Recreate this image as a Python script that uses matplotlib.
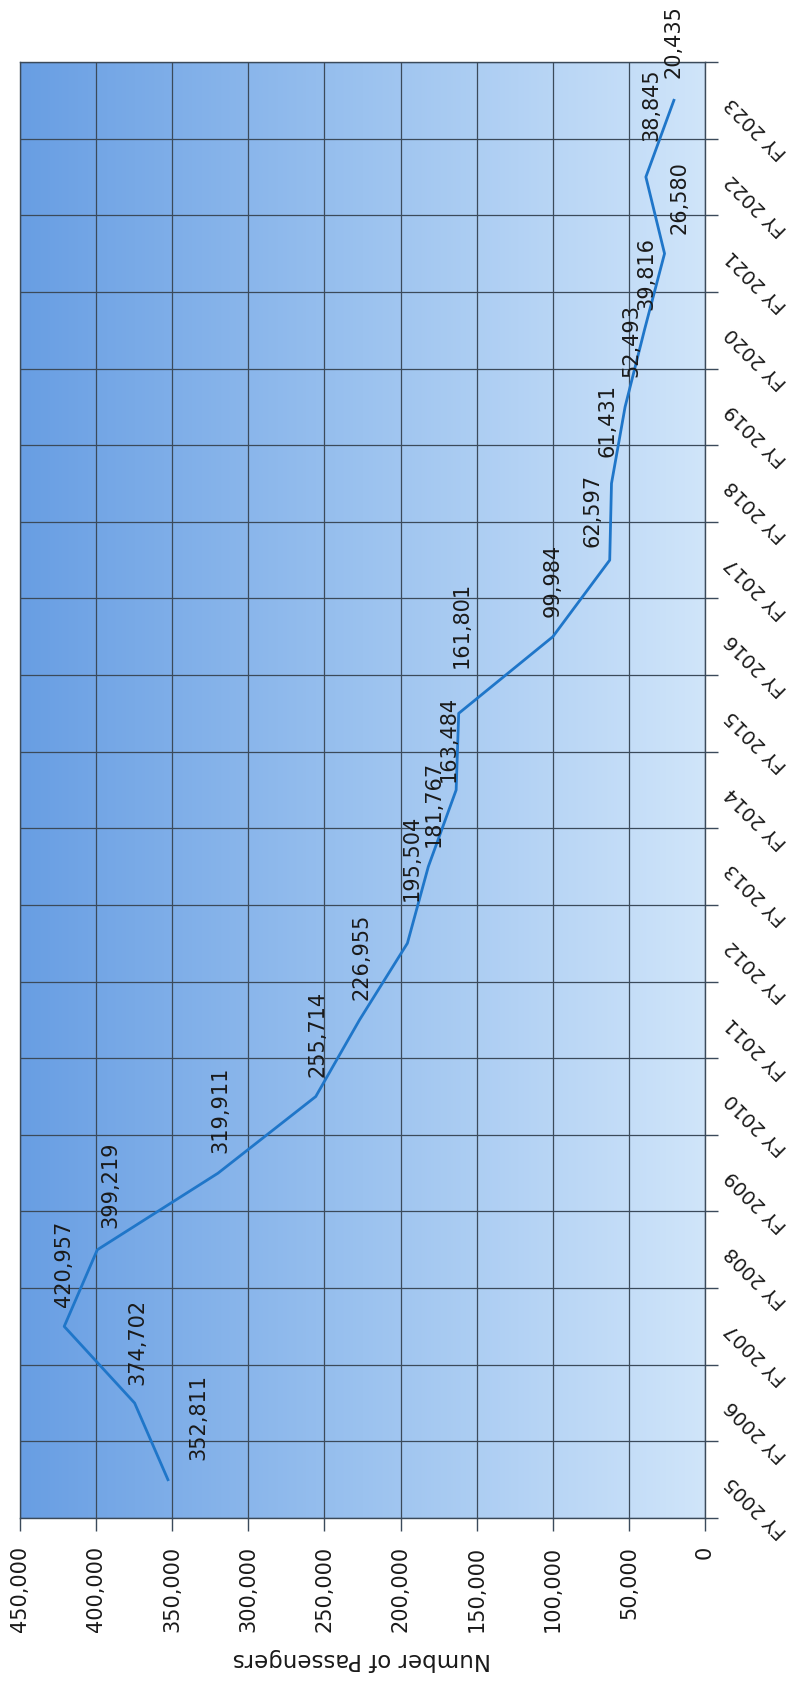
import numpy as np
import matplotlib
matplotlib.use('Agg')
import matplotlib.pyplot as plt
from matplotlib.colors import LinearSegmentedColormap
from matplotlib.ticker import FuncFormatter

plt.rcParams['font.family'] = ['DejaVu Sans']

# 数据
years = ['FY 2005', 'FY 2006', 'FY 2007', 'FY 2008', 'FY 2009', 'FY 2010', 'FY 2011',
         'FY 2012', 'FY 2013', 'FY 2014', 'FY 2015', 'FY 2016', 'FY 2017', 'FY 2018',
         'FY 2019', 'FY 2020', 'FY 2021', 'FY 2022', 'FY 2023']
passengers = [352811, 374702, 420957, 399219, 319911, 255714, 226955, 195504, 181767,
              163484, 161801, 99984, 62597, 61431, 52493, 39816, 26580, 38845, 20435]
value_ticks = [0, 50000, 100000, 150000, 200000, 250000, 300000, 350000, 400000, 450000]

# 标签微调（像素：横向, 与点的间距）
label_nudge = [(30, 20), (3, 18), (0, 19), (13, 22), (2, 20), (2, 20), (2, 20),
               (4, 42), (5, 20), (-7, 8), (3, 45), (0, 20), (-17, 13), (-4, 26),
               (6, 30), (2, 20), (15, 20), (6, 36), (0, 22)]

W, H = 805, 1698
fig = plt.figure(figsize=(W / 100, H / 100), dpi=100)
ax = fig.add_axes([20 / W, (H - 1518) / H, 685 / W, (1518 - 62) / H])

pos = np.arange(len(years))

# 背景渐变
cmap = LinearSegmentedColormap.from_list('bg', ['#689ee3', '#9bc2ef', '#d0e5fa'])
grad = np.linspace(0, 1, 256).reshape(1, -1)
ax.imshow(grad, cmap=cmap, aspect='auto', extent=(450000, 0, -0.5, len(years) - 0.5),
          zorder=0, interpolation='bicubic')

ax.plot(passengers, pos, color='#1f76c9', lw=2.0, zorder=3)

for v, p, (dx, dy) in zip(passengers, pos, label_nudge):
    ax.annotate(f'{v:,}', (v, p), xytext=(dx, dy), textcoords='offset pixels',
                rotation=90, ha='center', va='bottom', fontsize=15, color='#1a1a1a',
                zorder=4, annotation_clip=False)

ax.set_xlim(450000, 0)
ax.set_ylim(-0.5, len(years) - 0.5)

# 数值轴（底部）
ax.set_xticks(value_ticks)
ax.xaxis.set_major_formatter(FuncFormatter(lambda x, _: f'{int(x):,}'))
ax.tick_params(axis='x', direction='out', length=9, width=1, color='#3b4a5a',
               labelsize=15, labelrotation=90, pad=11, labelcolor='#1a1a1a')
ax.grid(axis='x', color='#3b4a5a', lw=0.9, zorder=1)

# 年份轴（右侧）
ax.yaxis.tick_right()
ax.set_yticks(pos)
ax.set_yticklabels(years)
ax.set_yticks(np.arange(-0.5, len(years), 1.0), minor=True)
ax.tick_params(axis='y', which='major', length=0, pad=17, labelsize=14, labelcolor='#1a1a1a')
ax.tick_params(axis='y', which='minor', direction='out', length=9, width=1, color='#3b4a5a')
for lab in ax.get_yticklabels():
    lab.set_rotation(135)
    lab.set_rotation_mode('anchor')
    lab.set_ha('right')
    lab.set_va('center')
ax.grid(axis='y', which='minor', color='#3b4a5a', lw=0.9, zorder=1)
ax.set_axisbelow(False)

for s in ax.spines.values():
    s.set_color('#3b4a5a')
    s.set_linewidth(1)

fig.text(362 / W, 1 - 1660 / H, 'Number of Passengers', rotation=180,
         ha='center', va='center', fontsize=16.5, color='#1a1a1a')

fig.savefig('out.png', dpi=100)
